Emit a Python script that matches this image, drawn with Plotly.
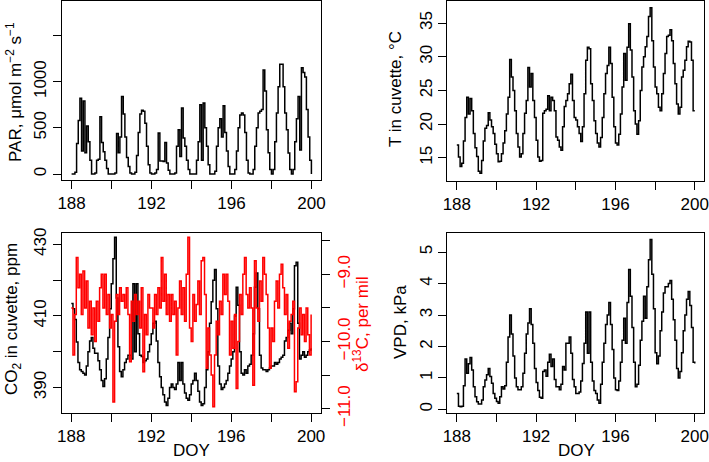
import numpy as np
import plotly.graph_objects as go

# ---------------- data (2-hourly values, DOY 188.0 ... 200.0) ----------------
DOY_START = 188
STEP_HOURS = 2

par = [
    0, 0, 20, 330, 580, 820, 250, 790, 230, 520, 350, 150,          # 188
    0, 0, 10, 150, 160, 620, 340, 240, 150, 60, 0, 0,               # 189
    0, 0, 10, 440, 230, 400, 840, 650, 400, 180, 80, 10,            # 190
    0, 0, 20, 200, 450, 650, 690, 680, 550, 300, 100, 10,           # 191
    0, 0, 10, 50, 445, 140, 140, 135, 341, 120, 40, 0,              # 192
    0, 0, 10, 300, 480, 190, 716, 390, 300, 150, 50, 0,             # 193
    0, 0, 0, 150, 350, 750, 150, 770, 500, 300, 100, 0,             # 194
    0, 0, 30, 300, 500, 600, 400, 740, 450, 250, 80, 0,             # 195
    0, 0, 50, 250, 500, 640, 660, 640, 450, 150, 10, 0,             # 196
    0, 50, 300, 500, 660, 680, 700, 1126, 900, 480, 230, 50,        # 197
    0, 50, 350, 660, 946, 1190, 1190, 946, 660, 480, 227, 50,       # 198
    0, 50, 350, 600, 840, 260, 1150, 1100, 1050, 700, 400, 150,     # 199
    0,
]

t_cuv = [
    16.9, 15.1, 13.7, 14.2, 17.5, 21.0, 24.0, 21.5, 23.8, 22.0, 18.6, 16.5,
    15.2, 13.0, 12.7, 14.6, 17.5, 19.4, 19.8, 21.7, 20.6, 19.6, 18.6, 17.0,
    15.6, 14.4, 14.5, 15.6, 17.2, 19.0, 21.5, 24.0, 29.6, 27.0, 25.0, 22.0,
    18.6, 16.6, 15.1, 15.6, 18.6, 21.6, 23.5, 28.4, 25.5, 27.5, 23.5, 21.0,
    17.6, 15.1, 14.5, 14.6, 21.6, 22.0, 22.2, 24.2, 22.0, 24.0, 23.5, 22.0,
    18.1, 17.6, 16.6, 16.1, 19.6, 22.6, 23.5, 24.5, 26.0, 27.4, 23.5, 21.0,
    20.6, 19.6, 18.6, 17.4, 19.6, 24.5, 29.5, 31.4, 31.2, 26.0, 23.5, 20.5,
    18.6, 17.2, 16.6, 18.0, 21.0, 24.5, 27.5, 28.7, 31.4, 29.0, 24.0, 19.6,
    17.2, 16.9, 18.5, 21.5, 25.5, 30.5, 26.5, 31.4, 34.9, 31.0, 27.0, 22.0,
    20.0, 18.5, 20.5, 25.0, 28.5, 30.0, 31.5, 33.0, 36.0, 37.3, 32.4, 28.5,
    25.5, 24.5, 22.5, 22.0, 24.5, 27.5, 30.5, 33.0, 33.2, 34.0, 32.4, 29.0,
    26.0, 23.0, 21.5, 22.5, 27.0, 28.0, 29.5, 31.5, 32.3, 32.2, 29.5, 22.0,
    22.0,
]

co2 = [
    413.5, 412, 409, 402.7, 397, 395, 394.5, 394, 393.5, 396, 400, 403,
    404, 401, 399.6, 399.6, 397.5, 395, 392, 390.3, 392.5, 398, 404, 412,
    419, 426, 432, 415, 401.4, 394.5, 393, 395, 397, 398, 399, 399,
    398, 419, 400, 419, 405, 399, 398.7, 397, 397.5, 398, 400, 402,
    405, 408, 408.5, 403, 397, 393, 390, 388, 386, 385, 387, 390,
    391, 390, 389.5, 391, 397, 392, 397, 391, 388.5, 387, 386.5, 388,
    391, 392, 394, 392, 389, 386, 385, 385.5, 390, 395, 400, 408,
    414, 420, 423, 412, 396, 391, 389.5, 390, 391, 392, 394, 396,
    398, 400, 410, 418, 413, 400, 394, 393.5, 395, 394, 396, 396.5,
    399, 405, 418, 422, 412, 399, 395.5, 395, 395, 394.5, 395, 395.5,
    396, 396, 397, 396.5, 397, 398, 398.5, 399, 403, 404, 406, 408,
    405, 412, 424, 425, 408, 398, 399, 400, 398.5, 399, 400, 400.5,
    401,
]

d13c = [
    -9.5, -10.2, -9.6, -8.75, -9.2, -9.0, -9.6, -8.95, -9.5, -9.1, -9.8, -9.4,
    -9.9, -9.5, -10.0, -9.4, -9.7, -9.2, -9.0, -9.5, -9.0, -9.6, -9.3, -9.8,
    -9.6, -10.9, -9.7, -9.3, -9.6, -9.2, -9.4, -9.3, -9.5, -9.2, -9.6, -10.3,
    -9.4, -9.7, -9.3, -9.6, -9.4, -9.8, -9.2, -10.45, -9.6, -9.9, -9.3, -9.5,
    -9.5, -9.8, -9.3, -9.6, -9.2, -9.5, -8.75, -9.4, -9.0, -9.6, -9.3, -9.7,
    -9.3, -9.6, -9.4, -10.2, -9.5, -9.1, -9.6, -9.2, -9.7, -9.0, -8.45, -9.8,
    -10.0, -9.3, -9.7, -9.45, -9.1, -9.6, -8.8, -8.75, -9.3, -10.4, -9.8, -10.2,
    -10.5, -10.97, -10.2, -9.7, -9.9, -9.4, -9.6, -9.0, -9.3, -9.0, -9.4, -10.2,
    -9.7, -10.1, -9.6, -10.7, -10.0, -9.3, -9.6, -9.0, -8.75, -9.3, -9.5, -9.2,
    -9.5, -10.65, -8.8, -9.5, -9.7, -9.1, -9.4, -8.75, -9.0, -9.3, -9.8, -10.4,
    -9.8, -10.0, -9.4, -9.1, -9.5, -9.0, -8.85, -9.2, -9.6, -9.3, -10.1, -9.7,
    -9.6, -9.4, -10.75, -10.6, -9.8, -9.5, -9.9, -9.6, -10.0, -9.5, -9.9, -10.2,
    -9.6,
]

vpd = [
    0.5, 0.1, 0.08, 0.1, 0.75, 1.6, 1.15, 1.45, 1.65, 1.25, 0.72, 0.4,
    0.24, 0.17, 0.17, 0.3, 0.72, 0.93, 1.1, 1.3, 1.04, 0.83, 0.5, 0.35,
    0.25, 0.19, 0.4, 0.72, 0.65, 0.75, 1.5, 2.3, 3.0, 2.4, 1.7, 1.0,
    0.72, 0.62, 0.62, 0.72, 1.15, 1.78, 2.4, 2.75, 3.2, 2.7, 2.1, 1.3,
    0.85, 0.6, 0.38, 0.35, 1.2, 1.25, 1.05, 1.5, 1.75, 1.36, 1.6, 0.95,
    0.72, 0.72, 0.62, 0.8, 1.36, 1.25, 2.1, 2.1, 2.3, 1.78, 0.95, 0.72,
    0.5, 0.5, 0.55, 0.9, 1.46, 2.1, 3.1, 1.78, 3.1, 1.5, 0.9, 0.6,
    0.5, 0.3, 0.19, 0.8, 1.5, 2.1, 2.7, 3.0, 3.4, 2.7, 1.9, 1.0,
    0.62, 0.6, 0.9, 1.5, 2.2, 2.9, 2.1, 3.4, 4.45, 3.6, 2.6, 1.5,
    0.72, 0.8, 1.4, 2.2, 2.8, 3.6, 2.9, 3.9, 4.76, 5.4, 4.3, 3.2,
    1.8, 1.45, 1.7, 2.5, 3.1, 3.7, 3.9, 3.9, 4.0, 4.1, 3.5, 2.85,
    2.2, 1.3, 1.0, 1.2, 1.8, 2.5, 3.0, 3.5, 3.75, 3.3, 2.6, 1.5,
    1.46,
]

x_labeled_ticks = [188, 192, 196, 200]
x_all_ticks = [188, 190, 192, 194, 196, 198, 200]
par_labeled_ticks = [0, 500, 1000]
par_all_ticks = [0, 500, 1000, 1500]
t_ticks = [15, 20, 25, 30, 35]
co2_labeled_ticks = [390, 410, 430]
co2_all_ticks = [390, 400, 410, 420, 430]
d13c_labeled_ticks = [-9.0, -10.0, -11.0]
d13c_tick_labels = ["\u22129.0", "\u221210.0", "\u221211.0"]
d13c_all_ticks = [-8.5, -9.0, -9.5, -10.0, -10.5, -11.0]
vpd_ticks = [0, 1, 2, 3, 4, 5]

# ---------------- figure ----------------
W, H = 709, 462
FONT = "Liberation Sans, Arial, Helvetica, sans-serif"
FS = 17
TL = 8


def dx(a, b):
    return [a / W, b / W]


def dy(top, bottom):
    return [1 - bottom / H, 1 - top / H]


doy = DOY_START + np.arange(len(par)) * STEP_HOURS / 24.0

fig = go.Figure()
line_k = dict(color="black", width=1.5, shape="hv")
fig.add_trace(go.Scatter(x=doy, y=par, mode="lines", line=line_k, xaxis="x", yaxis="y"))
fig.add_trace(go.Scatter(x=doy, y=t_cuv, mode="lines", line=line_k, xaxis="x2", yaxis="y2"))
fig.add_trace(go.Scatter(x=doy, y=co2, mode="lines", line=line_k, xaxis="x3", yaxis="y3"))
fig.add_trace(go.Scatter(x=doy, y=d13c, mode="lines",
                         line=dict(color="#ff0000", width=1.5, shape="hv"),
                         xaxis="x3", yaxis="y4"))
fig.add_trace(go.Scatter(x=doy, y=vpd, mode="lines", line=line_k, xaxis="x4", yaxis="y5"))


def minor(vals):
    return dict(tickmode="array", tickvals=vals, ticks="outside", ticklen=TL,
                tickwidth=1, tickcolor="black", showgrid=False)


common = dict(showline=True, linecolor="black", linewidth=1, mirror=True,
              ticks="outside", ticklen=TL, tickwidth=1, tickcolor="black",
              showgrid=False, zeroline=False, tickmode="array", automargin=False,
              tickfont=dict(family=FONT, size=FS, color="black"))
xr = [187.52, 200.48]
xcommon = dict(common, range=xr, tickvals=x_labeled_ticks,
               ticktext=[str(v) for v in x_labeled_ticks], minor=minor(x_all_ticks))
ycommon = dict(common, tickangle=-90)

fig.update_layout(
    width=W, height=H, autosize=False,
    margin=dict(l=0, r=0, t=0, b=0, pad=0, autoexpand=False),
    paper_bgcolor="white", plot_bgcolor="white",
    showlegend=False,
    font=dict(family=FONT, size=FS, color="black"),
    xaxis=dict(xcommon, domain=dx(62, 321), anchor="y"),
    yaxis=dict(ycommon, domain=dy(0.5, 180), anchor="x", range=[-65, 1880],
               tickvals=par_labeled_ticks, ticktext=[str(v) for v in par_labeled_ticks],
               minor=minor(par_all_ticks)),
    xaxis2=dict(xcommon, domain=dx(447.3, 704.3), anchor="y2"),
    yaxis2=dict(ycommon, domain=dy(0.5, 181), anchor="x2", range=[11.55, 38.36],
                tickvals=t_ticks, ticktext=[str(v) for v in t_ticks]),
    xaxis3=dict(xcommon, domain=dx(61.7, 320.7), anchor="y3"),
    yaxis3=dict(ycommon, domain=dy(233.3, 412.7), anchor="x3", range=[383.0, 433.07],
                tickvals=co2_labeled_ticks, ticktext=[str(v) for v in co2_labeled_ticks],
                minor=minor(co2_all_ticks)),
    yaxis4=dict(ycommon, overlaying="y3", side="right", anchor="x3",
                range=[-11.06, -8.39], showline=False, mirror=False,
                tickvals=d13c_labeled_ticks, ticktext=d13c_tick_labels,
                minor=minor(d13c_all_ticks),
                tickfont=dict(family=FONT, size=FS, color="#ff0000")),
    xaxis4=dict(xcommon, domain=dx(447.3, 704.3), anchor="y5"),
    yaxis5=dict(ycommon, domain=dy(232.7, 412.7), anchor="x4", range=[-0.108, 5.62],
                tickvals=vpd_ticks, ticktext=[str(v) for v in vpd_ticks]),
)


def title(text, xp, yp, angle=-90, color="black", yanchor="middle"):
    fig.add_annotation(text=text, x=xp / W, y=1 - yp / H, xref="paper", yref="paper",
                       showarrow=False, textangle=angle, xanchor="center", yanchor=yanchor,
                       font=dict(family=FONT, size=FS, color=color))


title("PAR, \u03bcmol m<sup>\u22122</sup> s<sup>\u22121</sup>", 14, 92)
title("T in cuvette, \u00b0C", 396, 89)
title("CO<sub>2</sub> in cuvette, ppm", 13, 319)
title("\u03b4<sup>13</sup>C, per mil", 361, 325, color="#ff0000")
title("VPD, kPa", 400, 322)
title("DOY", 191, 462, angle=0, yanchor="bottom")
title("DOY", 576, 462, angle=0, yanchor="bottom")

fig.write_html("out.html", config={"displayModeBar": False},
               post_script="document.body.style.margin='0px';")
